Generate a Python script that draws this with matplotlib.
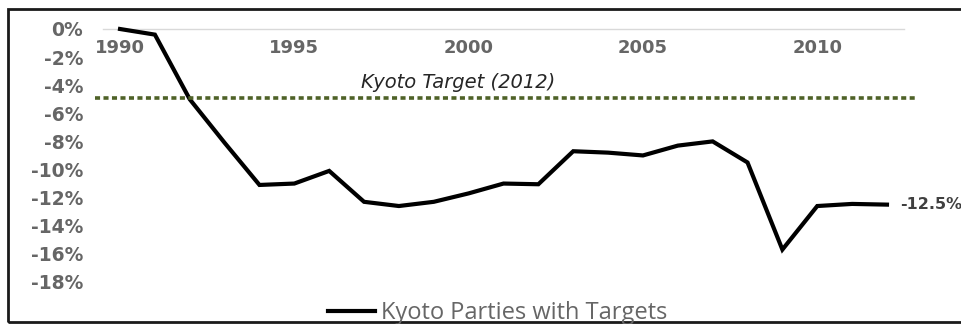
import matplotlib.pyplot as plt
from matplotlib.patches import Rectangle

# data: change vs 1990 (%)
years = list(range(1990, 2013))
change = [0.0, -0.4, -5.0, -8.1, -11.1, -11.0, -10.1, -12.3, -12.6, -12.3,
          -11.7, -11.0, -11.05, -8.7, -8.8, -9.0, -8.3, -8.0, -9.5, -15.7,
          -12.6, -12.45, -12.5]
target = -4.9
xticks = [1990, 1995, 2000, 2005, 2010]
yticks = [0, -2, -4, -6, -8, -10, -12, -14, -16, -18]

W, H = 961, 324
fig = plt.figure(figsize=(W / 100, H / 100), dpi=100)

# axes placed in pixel terms
left, right = 102.6 / W, (887 + 17.4) / W
top, bottom = 1 - 29 / H, 1 - 310 / H
ax = fig.add_axes([left, bottom, right - left, top - bottom])
ax.set_xlim(1989.5, 2012.5)
ax.set_ylim(-20, 0)

line, = ax.plot(years, change, color='black', lw=3, clip_on=False,
                solid_joinstyle='miter', label='Kyoto Parties with Targets')
ax.axhline(target, xmin=-0.0095, xmax=1.017, color='#4f6228', lw=2.6,
           linestyle=(0, (1.4, 0.95)), clip_on=False)
ax.text(1996.9, target + 0.4, 'Kyoto Target (2012)', style='italic',
        fontsize=14, color='#262626', va='bottom', ha='left')
ax.text(years[-1] + 0.37, change[-1], '%.1f%%' % change[-1], fontsize=11.5,
        fontweight='bold', color='#404040', va='center', ha='left', clip_on=False)

# category axis crosses at 0
for s in ['top', 'right', 'left']:
    ax.spines[s].set_visible(False)
ax.spines['bottom'].set_position(('data', 0))
ax.spines['bottom'].set_color('#d9d9d9')
ax.spines['bottom'].set_linewidth(1)
ax.spines['bottom'].set_zorder(0)

ax.set_xticks(xticks)
ax.set_xticklabels([str(x) for x in xticks])
ax.set_yticks(yticks)
ax.set_yticklabels(['%d%%' % y for y in yticks])
ax.tick_params(axis='x', length=0, pad=7, labelsize=13, labelcolor='#666666')
ax.tick_params(axis='y', length=0, pad=14, labelsize=13.5, labelcolor='#666666')
for t in ax.get_xticklabels() + ax.get_yticklabels():
    t.set_fontweight('bold')

fig.legend(handles=[line], loc='center left', bbox_to_anchor=(328 / W, 1 - 313 / H),
           frameon=False, handlelength=2.0, handletextpad=0.25,
           borderpad=0, borderaxespad=0, labelcolor='#666666',
           prop={'family': 'Open Sans', 'size': 17})

# outer frame
fig.patches.append(Rectangle((8 / W, 1 - 321.5 / H), 1.0, (321.5 - 9) / H,
                             transform=fig.transFigure, fill=False,
                             edgecolor='#1a1a1a', lw=2))

fig.savefig('out.png', dpi=100)
